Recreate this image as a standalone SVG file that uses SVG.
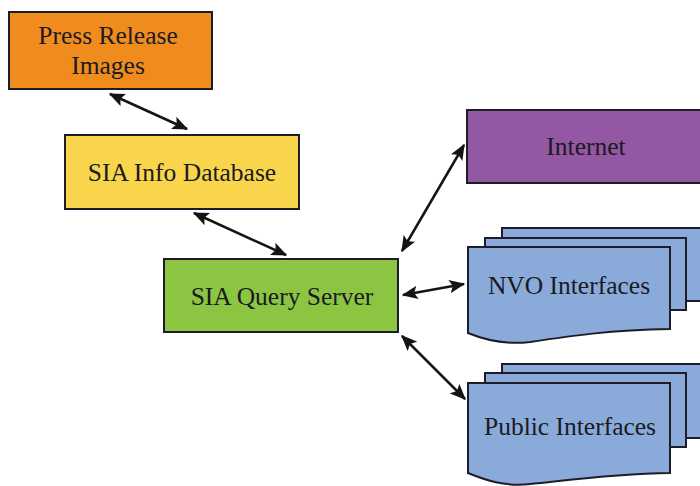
<svg xmlns="http://www.w3.org/2000/svg" width="700" height="486" viewBox="0 0 700 486">
<defs>
<marker id="ah" viewBox="0 0 12 10" refX="11" refY="5" markerWidth="6.4" markerHeight="5.6" markerUnits="strokeWidth" orient="auto-start-reverse">
<path d="M0,0 L12,5 L0,10 L2.5,5 Z" fill="#141414"/>
</marker>
<style>
.box{stroke:#1c1c2a;stroke-width:2}
.t{font-family:"Liberation Serif","Times New Roman",serif;font-size:25.5px;fill:#1a1a22;text-anchor:middle}
.c{fill:none;stroke:#141414;stroke-width:2.5;marker-start:url(#ah);marker-end:url(#ah)}
.doc{fill:#8aaad9;stroke:#1c1c2a;stroke-width:2}
</style>
</defs>
<rect width="700" height="486" fill="#ffffff"/>
<g id="press">
<rect class="box" x="9" y="12" width="203" height="77" fill="#f08c1e"/>
<text class="t" x="108" y="44">Press Release</text>
<text class="t" x="108" y="74">Images</text>
</g>
<g id="infodb">
<rect class="box" x="65" y="135" width="234" height="74" fill="#f9d54b"/>
<text class="t" x="182" y="181">SIA Info Database</text>
</g>
<g id="query">
<rect class="box" x="164" y="259" width="234" height="73" fill="#8cc542"/>
<text class="t" x="282" y="305">SIA Query Server</text>
</g>
<g id="internet">
<rect class="box" x="467" y="110" width="240" height="73" fill="#9357a3"/>
<text class="t" x="586" y="155">Internet</text>
</g>
<g id="nvo">
<rect class="doc" x="502" y="228" width="210" height="73"/>
<rect class="doc" x="485" y="238" width="201" height="72"/>
<path class="doc" d="M468,247 H670 V329 C610,330 570,336 530,342 C505,345 485,340 468,333 Z"/>
<text class="t" x="569" y="294">NVO Interfaces</text>
</g>
<g id="public">
<rect class="doc" x="502" y="364" width="210" height="74"/>
<rect class="doc" x="485" y="373" width="201" height="74"/>
<path class="doc" d="M468,383 H670 V473 C610,474 570,480 530,484 C505,487 485,480 468,473 Z"/>
<text class="t" x="570" y="435">Public Interfaces</text>
</g>
<g id="connectors">
<line class="c" x1="110" y1="94" x2="187" y2="129"/>
<line class="c" x1="194" y1="213" x2="286" y2="255"/>
<line class="c" x1="402" y1="251" x2="464" y2="145"/>
<line class="c" x1="403" y1="295" x2="464" y2="284"/>
<line class="c" x1="402" y1="336" x2="465" y2="399"/>
</g>
</svg>
